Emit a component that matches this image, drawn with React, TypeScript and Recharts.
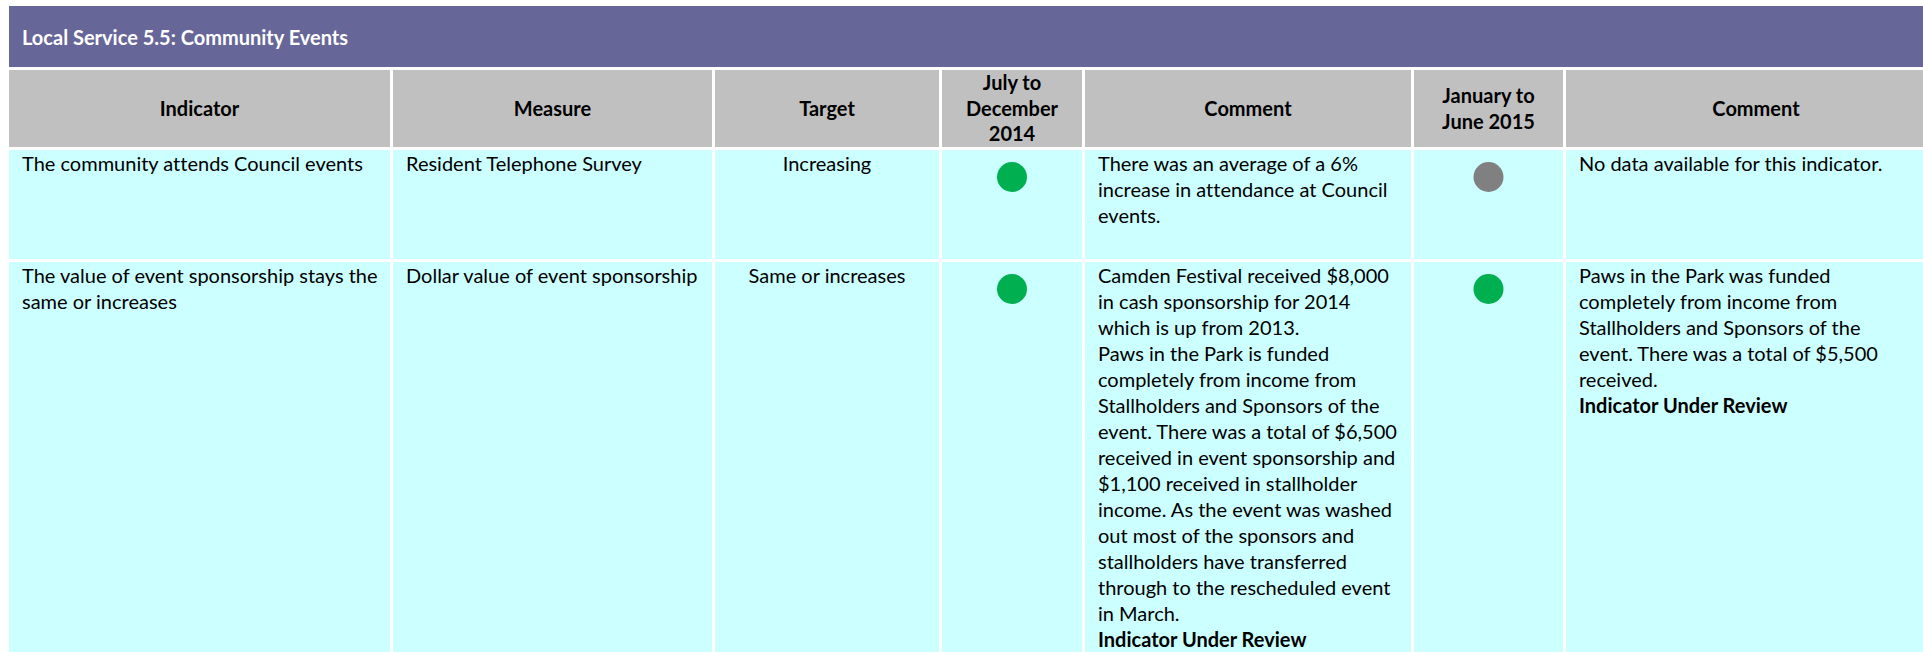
import React from "react";
import { ScatterChart, Scatter, XAxis, YAxis } from "recharts";

// ---------- data ----------
const title = "Local Service 5.5: Community Events";
const headerLines: string[][] = [
  ["Indicator"],
  ["Measure"],
  ["Target"],
  ["July to", "December", "2014"],
  ["Comment"],
  ["January to", "June 2015"],
  ["Comment"],
];
const indicatorLines: string[][] = [
  ["The community attends Council events"],
  ["The value of event sponsorship stays the", "same or increases"],
];
const measureLines: string[][] = [
  ["Resident Telephone Survey"],
  ["Dollar value of event sponsorship"],
];
const targets: string[] = ["Increasing", "Same or increases"];
const periods: string[] = ["July to December 2014", "January to June 2015"];
const status2014: string[] = ["achieved", "achieved"];
const status2015: string[] = ["no data", "achieved"];
const comment2014Lines: string[][] = [
  ["There was an average of a 6%", "increase in attendance at Council", "events."],
  [
    "Camden Festival received $8,000",
    "in cash sponsorship for 2014",
    "which is up from 2013.",
    "Paws in the Park is funded",
    "completely from income from",
    "Stallholders and Sponsors of the",
    "event. There was a total of $6,500",
    "received in event sponsorship and",
    "$1,100 received in stallholder",
    "income. As the event was washed",
    "out most of the sponsors and",
    "stallholders have transferred",
    "through to the rescheduled event",
    "in March.",
  ],
];
const comment2014Bold: (string | null)[] = [null, "Indicator Under Review"];
const comment2015Lines: string[][] = [
  ["No data available for this indicator."],
  [
    "Paws in the Park was funded",
    "completely from income from",
    "Stallholders and Sponsors of the",
    "event. There was a total of $5,500",
    "received.",
  ],
];
const comment2015Bold: (string | null)[] = [null, "Indicator Under Review"];

const statusColors: Record<string, string> = {
  achieved: "#00B050",
  "no data": "#808080",
};

// ---------- layout ----------
const COLS = [381, 319, 224, 140, 326, 149, 380];
const GAP = 3;
const TITLE_H = 61;
const HEADER_H = 77;
const ROW_H = [109, 420];
const FONT = "Lato, 'Noto Sans', sans-serif";
const FS = 20;
const LH = 26;
const TOTAL_W = COLS.reduce((a, b) => a + b, 0) + GAP * (COLS.length - 1);

const PURPLE = "#666699";
const GREY = "#C0C0C0";
const CYAN = "#CCFFFF";

function Lines({ lines, bold, align }: { lines: string[]; bold?: string | null; align?: "left" | "center" }) {
  return (
    <div style={{ textAlign: align || "left" }}>
      {lines.map((l, i) => (
        <div key={i} style={{ whiteSpace: "nowrap", height: LH, lineHeight: LH + "px" }}>
          {l}
        </div>
      ))}
      {bold ? (
        <div style={{ whiteSpace: "nowrap", height: LH, lineHeight: LH + "px", fontWeight: 700 }}>{bold}</div>
      ) : null}
    </div>
  );
}

function StatusDot({ period, status, width }: { period: string; status: string; width: number }) {
  const data = [{ period, level: 1, status }];
  return (
    <ScatterChart width={width} height={54} margin={{ top: 0, right: 0, bottom: 0, left: 0 }}>
      <XAxis dataKey="period" type="category" hide />
      <YAxis dataKey="level" type="number" domain={[0, 2]} hide />
      <Scatter
        data={data}
        isAnimationActive={false}
        shape={(p: any) => (
          <circle cx={p.cx} cy={p.cy} r={15} fill={statusColors[p.payload?.status ?? status]} />
        )}
      />
    </ScatterChart>
  );
}

function Cell({ w, h, bg, children, pad = 13, style }: any) {
  return (
    <div
      style={{
        width: w,
        minWidth: w,
        height: h,
        background: bg,
        boxSizing: "border-box",
        paddingLeft: pad,
        paddingRight: pad,
        overflow: "hidden",
        ...style,
      }}
    >
      {children}
    </div>
  );
}

export default function App() {
  return (
    <div
      style={{
        position: "absolute",
        left: 9,
        top: 6,
        width: 1923 - 9,
        height: 652 - 6,
        overflow: "hidden",
        fontFamily: FONT,
        fontSize: FS,
        color: "#000",
        fontVariantLigatures: "none",
        fontFeatureSettings: '"liga" 0, "clig" 0',
      }}
    >
      <div style={{ width: TOTAL_W }}>
        <div
          style={{
            height: TITLE_H,
            background: PURPLE,
            color: "#fff",
            fontWeight: 700,
            display: "flex",
            alignItems: "center",
            paddingLeft: 13,
            boxSizing: "border-box",
          }}
        >
          {title}
        </div>
        <div style={{ display: "flex", gap: GAP, marginTop: GAP }}>
          {headerLines.map((hl, i) => (
            <Cell
              key={i}
              w={COLS[i]}
              h={HEADER_H}
              bg={GREY}
              pad={4}
              style={{
                display: "flex",
                flexDirection: "column",
                alignItems: "center",
                justifyContent: "center",
                fontWeight: 700,
              }}
            >
              {hl.map((l, j) => (
                <div key={j} style={{ lineHeight: "25.5px", whiteSpace: "nowrap" }}>
                  {l}
                </div>
              ))}
            </Cell>
          ))}
        </div>
        {ROW_H.map((rh, r) => (
          <div key={r} style={{ display: "flex", gap: GAP, marginTop: GAP }}>
            <Cell w={COLS[0]} h={rh} bg={CYAN}>
              <Lines lines={indicatorLines[r]} />
            </Cell>
            <Cell w={COLS[1]} h={rh} bg={CYAN}>
              <Lines lines={measureLines[r]} />
            </Cell>
            <Cell w={COLS[2]} h={rh} bg={CYAN}>
              <Lines lines={[targets[r]]} align="center" />
            </Cell>
            <Cell w={COLS[3]} h={rh} bg={CYAN} pad={0}>
              <StatusDot period={periods[0]} status={status2014[r]} width={COLS[3]} />
            </Cell>
            <Cell w={COLS[4]} h={rh} bg={CYAN}>
              <Lines lines={comment2014Lines[r]} bold={comment2014Bold[r]} />
            </Cell>
            <Cell w={COLS[5]} h={rh} bg={CYAN} pad={0}>
              <StatusDot period={periods[1]} status={status2015[r]} width={COLS[5]} />
            </Cell>
            <Cell w={COLS[6]} h={rh} bg={CYAN}>
              <Lines lines={comment2015Lines[r]} bold={comment2015Bold[r]} />
            </Cell>
          </div>
        ))}
      </div>
    </div>
  );
}
